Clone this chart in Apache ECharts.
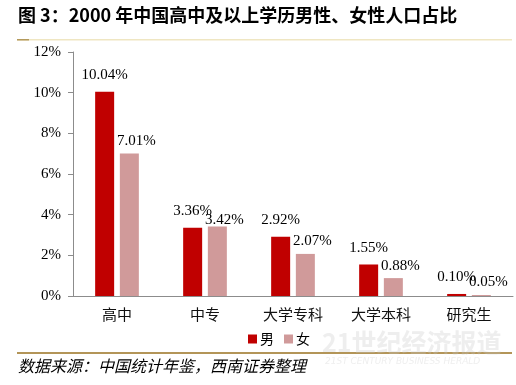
<!DOCTYPE html>
<html><head><meta charset="utf-8">
<script src="https://cdn.jsdelivr.net/npm/echarts@6/dist/echarts.min.js"></script>
<style>html,body{margin:0;padding:0;background:#fff}#c{width:516px;height:385px}</style>
</head><body><div id="c"></div>
<script>
const categories = ['高中', '中专', '大学专科', '大学本科', '研究生'];
const male = [10.04, 3.36, 2.92, 1.55, 0.10];
const female = [7.01, 3.42, 2.07, 0.88, 0.05];
const yTicks = [0, 2, 4, 6, 8, 10, 12];
const titleText = '图 3：2000 年中国高中及以上学历男性、女性人口占比';
const sourceText = '数据来源：中国统计年鉴，西南证券整理';

const serif = '"Liberation Serif","DejaVu Serif",serif';
const cjk = '"Noto Sans CJK SC","Noto Sans CJK JP",sans-serif';
const chart = echarts.init(document.getElementById('c'), null, {renderer: 'canvas'});
const fmt = p => p.value.toFixed(2) + '%';
chart.setOption({
  animation: false,
  grid: {left: 73, right: 3, top: 52, bottom: 89, containLabel: false},
  legend: {
    data: ['男', '女'], bottom: 34, left: 243, itemWidth: 9, itemHeight: 9, itemGap: 10,
    icon: 'rect', textStyle: {fontFamily: cjk, fontSize: 14, color: '#000', padding: [0, 0, 0, -2]}
  },
  xAxis: {
    type: 'category', data: categories,
    axisLine: {lineStyle: {color: '#8c8c8c', width: 1}},
    axisTick: {show: false},
    axisLabel: {fontFamily: cjk, fontSize: 15, color: '#111', margin: 11}
  },
  yAxis: {
    type: 'value', min: yTicks[0], max: yTicks[yTicks.length - 1], interval: 2,
    splitLine: {show: false},
    axisLine: {show: true, lineStyle: {color: '#8c8c8c'}},
    axisTick: {show: true, inside: false, length: 5, lineStyle: {color: '#8c8c8c'}},
    axisLabel: {formatter: '{value}%', fontFamily: serif, fontSize: 15, color: '#000', margin: 12}
  },
  series: [
    {name: '男', type: 'bar', data: male, barWidth: 19, barGap: '30%',
     itemStyle: {color: '#C00000'},
     label: {show: true, position: 'top', distance: 9, formatter: fmt, fontFamily: serif, fontSize: 15, color: '#000'}},
    {name: '女', type: 'bar', barWidth: 19,
     data: female.map((v, i) => i === 1 ? {value: v, label: {distance: -1}} : v),
     itemStyle: {color: '#D09A9A'},
     label: {show: true, position: 'top', distance: 5, offset: [7, 0], formatter: fmt, fontFamily: serif, fontSize: 15, color: '#000'}}
  ],
  graphic: [
    {type: 'text', left: 18, top: 6, style: {text: titleText, fontFamily: cjk, fontWeight: 'bold', fontSize: 18, fill: '#000'}},
    {type: 'rect', shape: {x: 17, y: 39, width: 495, height: 1.5}, style: {fill: '#efe6c2'}},
    {type: 'rect', shape: {x: 17, y: 39, width: 12, height: 1.5}, style: {fill: '#b49a5c'}},
    {type: 'rect', shape: {x: 17, y: 352, width: 495, height: 2}, style: {fill: '#b39558'}},
    {type: 'text', left: 18, top: 358, style: {text: sourceText, fontFamily: cjk, fontStyle: 'italic', fontSize: 16, fill: '#000'}},
    {type: 'text', left: 322, top: 330, style: {text: '21世纪经济报道', fontFamily: cjk, fontWeight: 'bold', fontSize: 25, fill: 'rgba(200,200,200,0.3)'}},
    {type: 'text', left: 325, top: 357, style: {text: '21ST CENTURY BUSINESS HERALD', fontFamily: '"DejaVu Sans",sans-serif', fontStyle: 'italic', fontSize: 9, fill: 'rgba(200,200,200,0.3)'}}
  ]
});
</script></body></html>
